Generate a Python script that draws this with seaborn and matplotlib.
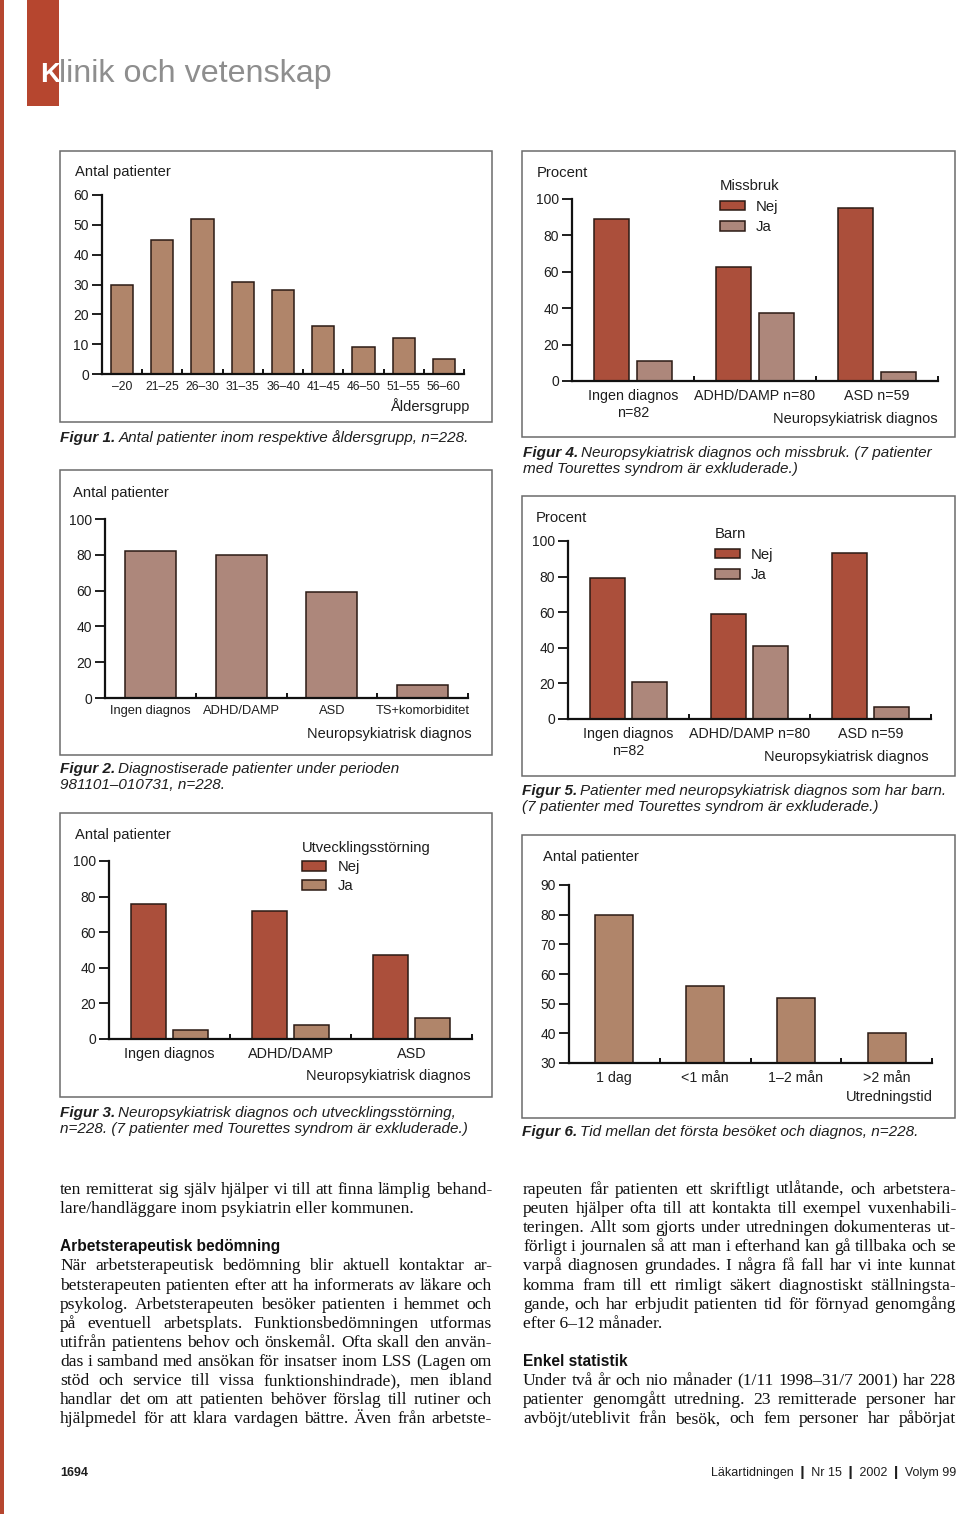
import numpy as np
import pandas as pd
import matplotlib
matplotlib.use("Agg")
import matplotlib.pyplot as plt
from matplotlib.patches import Rectangle
import seaborn as sns

# ---- data ----
age_groups = ["–20", "21–25", "26–30", "31–35", "36–40", "41–45", "46–50", "51–55", "56–60"]
age_counts = [30, 45, 52, 31, 28, 16, 9, 12, 5]

diag_groups = ["Ingen diagnos", "ADHD/DAMP", "ASD", "TS+komorbiditet"]
diag_counts = [82, 80, 59, 7]

utv_groups = ["Ingen diagnos", "ADHD/DAMP", "ASD"]
utv_nej = [76, 72, 47]
utv_ja = [5, 8, 12]

pct_groups = ["Ingen diagnos\nn=82", "ADHD/DAMP n=80", "ASD n=59"]
missbruk_nej = [89, 62.5, 95]
missbruk_ja = [11, 37.5, 5]
barn_nej = [79.3, 58.8, 93.2]
barn_ja = [20.7, 41.2, 6.8]

time_groups = ["1 dag", "<1 mån", "1–2 mån", ">2 mån"]
time_counts = [80, 56, 52, 40]

RED = "#ab4f3b"
TAN = "#b0856a"
PINK = "#ad877b"
EDGE = "#2b1a14"
INK = "#1e1e1e"
BRAND = "#b6462f"

sns.set_style("ticks")
SANS = "Liberation Sans"
SERIF = "Liberation Serif"
plt.rcParams["font.family"] = [SANS, "DejaVu Sans"]

W, H = 960, 1514
fig = plt.figure(figsize=(W / 100, H / 100), dpi=100)
r = fig.canvas.get_renderer()


def txt(x, y, s, size=10.5, ha="left", va="center", family=SANS, **kw):
    return fig.text(x / W, 1 - y / H, s, ha=ha, va=va, fontsize=size,
                    family=[family, "DejaVu Sans"], color=kw.pop("color", INK), **kw)


def box(x0, y0, x1, y1, **kw):
    fig.patches.append(Rectangle((x0 / W, 1 - y1 / H), (x1 - x0) / W, (y1 - y0) / H,
                                 transform=fig.transFigure, **kw))


def new_ax(x0, y0, x1, y1):
    return fig.add_axes([x0 / W, 1 - y1 / H, (x1 - x0) / W, (y1 - y0) / H])


def style_ax(ax, n, ylim, yticks, xsize=10, pad=4):
    ax.set_xlim(-0.5, n - 0.5)
    ax.set_ylim(*ylim)
    ax.set_yticks(yticks)
    ax.set_xlabel("")
    ax.set_ylabel("")
    sns.despine(ax=ax)
    for s in ("left", "bottom"):
        ax.spines[s].set_linewidth(1.6)
        ax.spines[s].set_color("#111111")
    ax.tick_params(axis="y", length=7, width=1.4, pad=2.5, labelsize=10, colors=INK)
    ax.tick_params(axis="x", which="major", length=0, pad=pad, labelsize=xsize, colors=INK)
    ax.set_xticks(np.arange(-0.5, n, 1), minor=True)
    ax.tick_params(axis="x", which="minor", direction="in", length=3.5, width=1.4, color="#111111")
    ax.set_facecolor("none")


def legend(ax, title, x, y, size=10.5, spacing=0.3):
    h, l = ax.get_legend_handles_labels()
    leg = ax.legend(h, l, title=title, frameon=False, loc="upper left",
                    bbox_to_anchor=(x / W, 1 - y / H), bbox_transform=fig.transFigure,
                    fontsize=size, title_fontsize=size, alignment="left",
                    handlelength=1.65, handleheight=0.62, handletextpad=0.75,
                    labelspacing=spacing, borderpad=0, borderaxespad=0)
    for t in leg.get_texts() + [leg.get_title()]:
        t.set_color(INK)


def caption(x, y, num, lines, size=10.95):
    b = txt(x, y, num, size=size, va="baseline", style="italic", weight="bold")
    w = b.get_window_extent(r).width
    txt(x + w + 3, y, lines[0], size=size, va="baseline", style="italic")
    for i, line in enumerate(lines[1:]):
        txt(x, y + 16 * (i + 1), line, size=size, va="baseline", style="italic")


# ---- page furniture ----
box(0, 0, 4, H, color=BRAND, lw=0)
box(27, 0, 59, 106, color=BRAND, lw=0)
txt(40, 82, "K", size=20, va="baseline", weight="bold", color="white")
txt(59, 82, "linik och vetenskap", size=23.2, va="baseline", color="#8e8e8e")

frame = dict(fill=False, ec="#6b6b6b", lw=1.1)
box(60, 151, 492, 422, **frame)
box(60, 470, 492, 755, **frame)
box(60, 813, 492, 1097, **frame)
box(522, 151, 955, 437, **frame)
box(522, 496, 955, 776, **frame)
box(522, 835, 955, 1118, **frame)

# ---- Figur 1 ----
ax = new_ax(102, 195, 464, 374)
sns.barplot(x=age_groups, y=age_counts, color=TAN, width=0.55, edgecolor=EDGE,
            linewidth=1.1, saturation=1, ax=ax)
style_ax(ax, len(age_groups), (0, 60), range(0, 61, 10), xsize=8.7, pad=5)
txt(75, 172, "Antal patienter", size=10.6)
txt(469, 406, "Åldersgrupp", size=10.5, ha="right")
caption(60, 442, "Figur 1.", ["Antal patienter inom respektive åldersgrupp, n=228."])

# ---- Figur 2 ----
ax = new_ax(105, 519, 468, 698)
sns.barplot(x=diag_groups, y=diag_counts, color=PINK, width=0.56, edgecolor=EDGE,
            linewidth=1.1, saturation=1, ax=ax)
style_ax(ax, len(diag_groups), (0, 100), range(0, 101, 20), xsize=9.3, pad=5)
txt(73, 493, "Antal patienter", size=10.6)
txt(472, 734, "Neuropsykiatrisk diagnos", size=10.5, ha="right")
caption(60, 773, "Figur 2.", ["Diagnostiserade patienter under perioden", "981101–010731, n=228."])

# ---- Figur 3 ----
df3 = pd.DataFrame({"diagnos": utv_groups * 2, "antal": utv_nej + utv_ja,
                    "grupp": ["Nej"] * 3 + ["Ja"] * 3})
ax = new_ax(109, 861, 472, 1039)
sns.barplot(data=df3, x="diagnos", y="antal", hue="grupp", palette=[RED, TAN],
            width=0.69, gap=0.17, edgecolor=EDGE, linewidth=1.1, saturation=1, ax=ax)
style_ax(ax, 3, (0, 100), range(0, 101, 20), xsize=10.4, pad=6)
legend(ax, "Utvecklingsstörning", 302, 841, size=10.6, spacing=0.34)
txt(75, 835, "Antal patienter", size=10.6)
txt(471, 1076, "Neuropsykiatrisk diagnos", size=10.5, ha="right")
caption(60, 1117, "Figur 3.", ["Neuropsykiatrisk diagnos och utvecklingsstörning,",
                               "n=228. (7 patienter med Tourettes syndrom är exkluderade.)"])

# ---- Figur 4 ----
df4 = pd.DataFrame({"diagnos": pct_groups * 2, "procent": missbruk_nej + missbruk_ja,
                    "grupp": ["Nej"] * 3 + ["Ja"] * 3})
ax = new_ax(572, 199, 938, 381)
sns.barplot(data=df4, x="diagnos", y="procent", hue="grupp", palette=[RED, PINK],
            width=0.70, gap=0.18, edgecolor=EDGE, linewidth=1.1, saturation=1, ax=ax)
style_ax(ax, 3, (0, 100), range(0, 101, 20), xsize=10.3, pad=6)
legend(ax, "Missbruk", 720, 179, size=10.7, spacing=0.45)
txt(537, 173, "Procent", size=10.7)
txt(938, 419, "Neuropsykiatrisk diagnos", size=10.5, ha="right")
caption(523, 457, "Figur 4.", ["Neuropsykiatrisk diagnos och missbruk. (7 patienter",
                               "med Tourettes syndrom är exkluderade.)"])

# ---- Figur 5 ----
df5 = pd.DataFrame({"diagnos": pct_groups * 2, "procent": barn_nej + barn_ja,
                    "grupp": ["Nej"] * 3 + ["Ja"] * 3})
ax = new_ax(568, 541, 931, 719)
sns.barplot(data=df5, x="diagnos", y="procent", hue="grupp", palette=[RED, PINK],
            width=0.70, gap=0.18, edgecolor=EDGE, linewidth=1.1, saturation=1, ax=ax)
style_ax(ax, 3, (0, 100), range(0, 101, 20), xsize=10.3, pad=6)
legend(ax, "Barn", 715, 527, size=10.7, spacing=0.45)
txt(536, 518, "Procent", size=10.7)
txt(929, 757, "Neuropsykiatrisk diagnos", size=10.5, ha="right")
caption(522, 795, "Figur 5.", ["Patienter med neuropsykiatrisk diagnos som har barn.",
                               "(7 patienter med Tourettes syndrom är exkluderade.)"])

# ---- Figur 6 ----
ax = new_ax(569, 885, 932, 1063)
sns.barplot(x=time_groups, y=time_counts, color=TAN, width=0.42, edgecolor=EDGE,
            linewidth=1.1, saturation=1, ax=ax)
style_ax(ax, len(time_groups), (30, 90), range(30, 91, 10), xsize=10.2, pad=6)
txt(543, 857, "Antal patienter", size=10.6)
txt(933, 1097, "Utredningstid", size=10.5, ha="right")
caption(522, 1136, "Figur 6.", ["Tid mellan det första besöket och diagnos, n=228."])


# ---- body text ----
def body(x0, x1, y, s, justify=True, size=12.6):
    if not justify:
        txt(x0, y, s, size=size, va="baseline", family=SERIF, color="#111111")
        return
    words = s.split(" ")
    ts = [txt(0, y, w, size=size, va="baseline", family=SERIF, color="#111111") for w in words]
    ws = [t.get_window_extent(r).width for t in ts]
    gap = ((x1 - x0) - sum(ws)) / (len(words) - 1)
    x = x0
    for t, w in zip(ts, ws):
        t.set_x(x / W)
        x += w + gap


left_col = [
    ("ten remitterat sig själv hjälper vi till att finna lämplig behand-", True),
    ("lare/handläggare inom psykiatrin eller kommunen.", False),
    None,
    ("Arbetsterapeutisk bedömning", "head"),
    ("När arbetsterapeutisk bedömning blir aktuell kontaktar ar-", True),
    ("betsterapeuten patienten efter att ha informerats av läkare och", True),
    ("psykolog. Arbetsterapeuten besöker patienten i hemmet och", True),
    ("på eventuell arbetsplats. Funktionsbedömningen utformas", True),
    ("utifrån patientens behov och önskemål. Ofta skall den använ-", True),
    ("das i samband med ansökan för insatser inom LSS (Lagen om", True),
    ("stöd och service till vissa funktionshindrade), men ibland", True),
    ("handlar det om att patienten behöver förslag till rutiner och", True),
    ("hjälpmedel för att klara vardagen bättre. Även från arbetste-", True),
]
right_col = [
    ("rapeuten får patienten ett skriftligt utlåtande, och arbetstera-", True),
    ("peuten hjälper ofta till att kontakta till exempel vuxenhabili-", True),
    ("teringen. Allt som gjorts under utredningen dokumenteras ut-", True),
    ("förligt i journalen så att man i efterhand kan gå tillbaka och se", True),
    ("varpå diagnosen grundades. I några få fall har vi inte kunnat", True),
    ("komma fram till ett rimligt säkert diagnostiskt ställningsta-", True),
    ("gande, och har erbjudit patienten tid för förnyad genomgång", True),
    ("efter 6–12 månader.", False),
    None,
    ("Enkel statistik", "head"),
    ("Under två år och nio månader (1/11 1998–31/7 2001) har 228", True),
    ("patienter genomgått utredning. 23 remitterade personer har", True),
    ("avböjt/uteblivit från besök, och fem personer har påbörjat", True),
]

for (x0, x1), col in (((60, 492), left_col), ((523, 956), right_col)):
    for i, item in enumerate(col):
        if item is None:
            continue
        y = 1194 + i * 19.1
        s, mode = item
        if mode == "head":
            txt(x0, y, s, size=11.2, va="baseline", weight="bold", color="#111111")
        else:
            body(x0, x1, y, s, justify=mode)

# ---- footer ----
txt(60, 1476, "1694", size=9, va="baseline", weight="bold")
txt(956, 1476, "Läkartidningen ❙ Nr 15 ❙ 2002 ❙ Volym 99", size=9, va="baseline", ha="right")

fig.savefig("out.png", dpi=100)
